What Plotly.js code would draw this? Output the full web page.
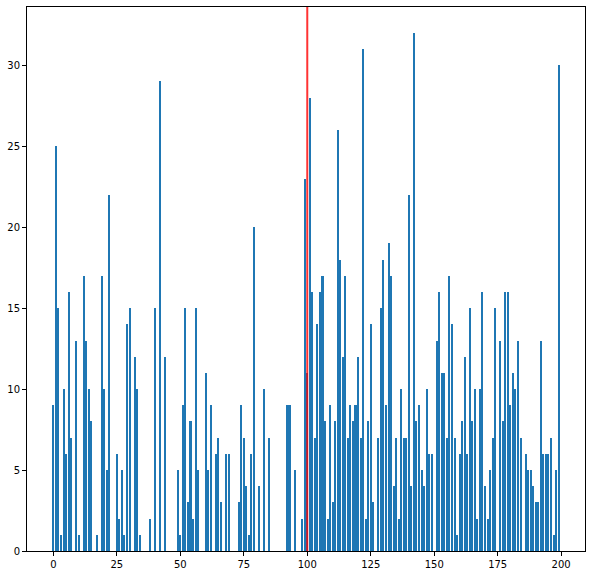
<!DOCTYPE html>
<html>
<head>
    <meta charset='utf-8'>
    <title>Bar chart</title>
    <script src="https://cdn.plot.ly/plotly-3.0.1.min.js"></script>
    <style>
        body { margin: 0; background: #ffffff; }
        #chartDiv { width: 592px; height: 575px; }
    </style>
</head>
<body>
    <div id="chartDiv"></div>

    <script>
        // bar heights, index 0..199
        const counts = [
            9, 25, 15, 1, 10, 6, 16, 7, 0, 13,
            1, 0, 17, 13, 10, 8, 0, 1, 0, 17,
            10, 5, 22, 0, 0, 6, 2, 5, 1, 14,
            15, 0, 12, 10, 1, 0, 0, 0, 2, 0,
            15, 0, 29, 0, 12, 0, 0, 0, 0, 5,
            1, 9, 15, 3, 8, 2, 15, 5, 0, 0,
            11, 5, 9, 0, 6, 7, 3, 0, 6, 6,
            0, 0, 0, 3, 9, 7, 4, 1, 6, 20,
            0, 4, 0, 10, 0, 7, 0, 0, 0, 0,
            0, 0, 9, 9, 0, 5, 0, 0, 2, 23,
            11, 28, 16, 7, 14, 16, 17, 8, 2, 9,
            3, 8, 26, 18, 12, 17, 7, 9, 8, 9,
            12, 7, 31, 2, 8, 14, 3, 0, 7, 15,
            18, 9, 19, 17, 4, 7, 2, 10, 7, 7,
            22, 4, 32, 8, 9, 5, 4, 10, 6, 6,
            0, 13, 16, 11, 11, 7, 17, 14, 7, 1,
            6, 8, 12, 6, 15, 8, 10, 2, 10, 16,
            4, 2, 5, 7, 15, 0, 13, 8, 16, 16,
            9, 11, 10, 13, 7, 0, 6, 5, 5, 4,
            3, 3, 13, 6, 6, 6, 7, 1, 5, 30
        ];
        const positions = counts.map((v, i) => i);
        const markerX = 100;

        const xTicks = [0, 25, 50, 75, 100, 125, 150, 175, 200];
        const yTicks = [0, 5, 10, 15, 20, 25, 30];

        const chartDiv = document.getElementById("chartDiv");

        const bars = {
            x : positions,
            y : counts,
            type : 'bar',
            width : 0.8,
            marker : { color : '#1f77b4', line : { width : 0 } },
            hoverinfo : 'x+y',
        };

        const axisStyle = {
            showgrid : false,
            zeroline : false,
            showline : true,
            mirror : true,
            linecolor : '#000000',
            linewidth : 1,
            ticks : 'outside',
            ticklen : 4,
            tickwidth : 1,
            tickcolor : '#000000',
            tickfont : { family : 'DejaVu Sans', size : 10, color : '#000000' },
        };

        const layout = {
            width : 592,
            height : 575,
            margin : { l : 27, r : 7, t : 7, b : 24 },
            paper_bgcolor : '#ffffff',
            plot_bgcolor : '#ffffff',
            showlegend : false,
            bargap : 0,
            xaxis : Object.assign({}, axisStyle, {
                range : [-10.39, 209.39],
                tickmode : 'array',
                tickvals : xTicks,
            }),
            yaxis : Object.assign({}, axisStyle, {
                range : [0, 33.6],
                tickmode : 'array',
                tickvals : yTicks,
            }),
            shapes : [{
                type : 'line',
                xref : 'x',
                yref : 'paper',
                x0 : markerX,
                x1 : markerX,
                y0 : 0,
                y1 : 1,
                line : { color : 'rgba(255,0,0,0.8)', width : 2 },
                layer : 'above',
            }],
        };

        Plotly.newPlot(chartDiv, [bars], layout, { displayModeBar : false, staticPlot : true });
    </script>
</body>
</html>
